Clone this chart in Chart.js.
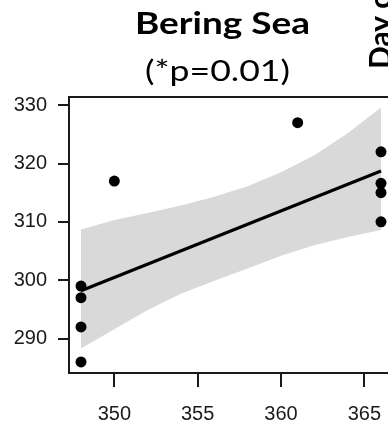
<!DOCTYPE html>
<html>
<head>
<meta charset="utf-8">
<script src="https://cdn.jsdelivr.net/npm/chart.js@4"></script>
<style>
  html,body{margin:0;padding:0;background:#fff;overflow:hidden;}
  #wrap{width:420px;height:421px;}
</style>
</head>
<body>
<div id="wrap"><canvas id="c" width="420" height="421"></canvas></div>
<script>
/* ── data ── */
const ptX   =[348,348,348,348,350,361,366,366,366,366];
const ptY   =[299,297,292,286,317,327,322,316.6,315,310];
const fitX  =[348,366];
const fitY  =[298.2,318.7];
const bandX =[348,350,352,354,356,358,360,362,364,366];
const bandHi=[308.7,310.3,311.5,312.8,314.3,316.1,318.5,321.4,325.2,329.6];
const bandLo=[288.3,291.6,294.9,297.7,299.9,302.0,304.2,306.0,307.4,308.6];
const xTicks=[350,355,360,365];
const yTicks=[290,300,310,320,330];

const INK='#1a1a1a';
const tickFont={family:"'Liberation Sans',Arial,sans-serif",size:20};

/* titles + box drawn on top */
const decor={
  id:'decor',
  afterDraw(chart){
    const c=chart.ctx,a=chart.chartArea;
    c.save();
    c.strokeStyle=INK;c.lineWidth=2;
    c.strokeRect(a.left,a.top,a.right-a.left,a.bottom-a.top);
    c.fillStyle='#000';c.textAlign='center';c.textBaseline='alphabetic';
    // line 1
    c.font='bold 30px Lato';
    let w=c.measureText('Bering Sea').width;
    c.save();c.translate(222.5,33.5);c.scale(175/w,1);c.fillText('Bering Sea',0,0);c.restore();
    // line 2
    c.font='28px Lato';
    w=c.measureText('(*p=0.01)').width;
    c.save();c.translate(217.5,80.5);c.scale(145/w,1);c.fillText('(*p=0.01)',0,0);c.restore();
    // neighbouring panel's axis title, cut by the frame
    c.font='bold 30px Lato';c.textAlign='left';
    c.translate(391,69);c.rotate(-Math.PI/2);c.fillText('Day of Year',0,0);
    c.restore();
  }
};

new Chart(document.getElementById('c'),{
  type:'scatter',
  data:{datasets:[
    {label:'obs',data:ptX.map((x,i)=>({x,y:ptY[i]})),backgroundColor:'#000',pointRadius:5.5,borderWidth:0,order:0},
    {label:'fit',data:fitX.map((x,i)=>({x,y:fitY[i]})),showLine:true,borderColor:'#000',borderWidth:3.2,pointRadius:0,order:1},
    {label:'lo',data:bandX.map((x,i)=>({x,y:bandLo[i]})),showLine:true,borderWidth:0,pointRadius:0,order:3},
    {label:'hi',data:bandX.map((x,i)=>({x,y:bandHi[i]})),showLine:true,borderWidth:0,pointRadius:0,fill:'-1',backgroundColor:'#d9d9d9',order:2}
  ]},
  plugins:[decor],
  options:{
    responsive:false,animation:false,
    layout:{padding:{left:0,top:97,right:27,bottom:0}},
    plugins:{legend:{display:false},tooltip:{enabled:false}},
    scales:{
      x:{min:347.28,max:366.72,
        afterFit:s=>{s.height=48},
        afterBuildTicks:s=>{s.ticks=xTicks.map(v=>({value:v}))},
        grid:{drawOnChartArea:false,tickLength:14,color:INK,lineWidth:2},
        border:{display:false},
        ticks:{font:tickFont,color:INK,padding:15,maxRotation:0}},
      y:{min:284.1,max:331.4,
        afterFit:s=>{s.width=69},
        afterBuildTicks:s=>{s.ticks=yTicks.map(v=>({value:v}))},
        grid:{drawOnChartArea:false,tickLength:11,color:INK,lineWidth:2},
        border:{display:false},
        ticks:{font:tickFont,color:INK,padding:11}}
    }
  }
});
</script>
</body>
</html>
